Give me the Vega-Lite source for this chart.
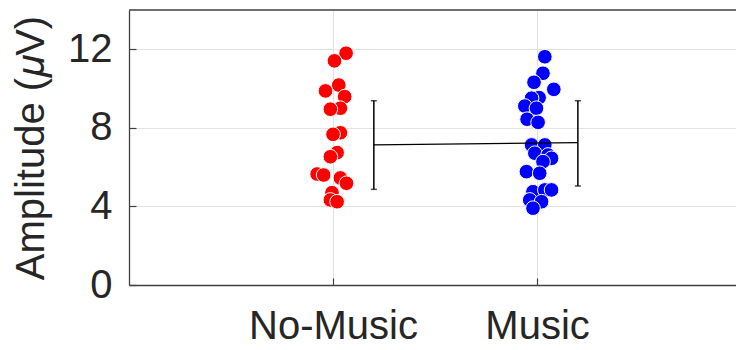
{
  "$schema": "https://vega.github.io/schema/vega-lite/v6.json",
  "width": 607,
  "height": 275,
  "autosize": {"type": "none"},
  "padding": {"left": 129, "top": 10, "right": 0, "bottom": 65},
  "background": "white",
  "config": {
    "view": {"stroke": null},
    "font": "Liberation Sans",
    "axis": {
      "labelFont": "Liberation Sans",
      "titleFont": "Liberation Sans",
      "labelColor": "#262626",
      "titleColor": "#262626",
      "domainColor": "#404040",
      "domainWidth": 1.3,
      "tickColor": "#404040",
      "tickWidth": 1.2,
      "gridColor": "#e2e2e2",
      "gridWidth": 1
    }
  },
  "datasets": {
    "pts": [
      {"group": "No-Music", "x": 1.064, "y": 11.80},
      {"group": "No-Music", "x": 1.007, "y": 11.41},
      {"group": "No-Music", "x": 1.028, "y": 10.18},
      {"group": "No-Music", "x": 0.963, "y": 9.88},
      {"group": "No-Music", "x": 1.057, "y": 9.59},
      {"group": "No-Music", "x": 1.036, "y": 9.00},
      {"group": "No-Music", "x": 0.987, "y": 8.95},
      {"group": "No-Music", "x": 1.036, "y": 7.75},
      {"group": "No-Music", "x": 1.000, "y": 7.67},
      {"group": "No-Music", "x": 1.020, "y": 6.74},
      {"group": "No-Music", "x": 0.987, "y": 6.53},
      {"group": "No-Music", "x": 0.922, "y": 5.65},
      {"group": "No-Music", "x": 0.954, "y": 5.60},
      {"group": "No-Music", "x": 1.036, "y": 5.45},
      {"group": "No-Music", "x": 1.066, "y": 5.18},
      {"group": "No-Music", "x": 0.995, "y": 4.70},
      {"group": "No-Music", "x": 0.987, "y": 4.33},
      {"group": "No-Music", "x": 1.020, "y": 4.24},
      {"group": "Music", "x": 2.038, "y": 11.62},
      {"group": "Music", "x": 2.029, "y": 10.78},
      {"group": "Music", "x": 1.985, "y": 10.32},
      {"group": "Music", "x": 2.082, "y": 9.96},
      {"group": "Music", "x": 2.010, "y": 9.54},
      {"group": "Music", "x": 1.973, "y": 9.51},
      {"group": "Music", "x": 1.940, "y": 9.11},
      {"group": "Music", "x": 1.997, "y": 9.00},
      {"group": "Music", "x": 1.951, "y": 8.44},
      {"group": "Music", "x": 2.005, "y": 8.28},
      {"group": "Music", "x": 1.973, "y": 7.13},
      {"group": "Music", "x": 2.038, "y": 7.13},
      {"group": "Music", "x": 1.989, "y": 6.71},
      {"group": "Music", "x": 2.054, "y": 6.62},
      {"group": "Music", "x": 2.071, "y": 6.45},
      {"group": "Music", "x": 2.029, "y": 6.28},
      {"group": "Music", "x": 1.948, "y": 5.77},
      {"group": "Music", "x": 2.013, "y": 5.69},
      {"group": "Music", "x": 1.980, "y": 4.75},
      {"group": "Music", "x": 2.038, "y": 4.84},
      {"group": "Music", "x": 2.071, "y": 4.84},
      {"group": "Music", "x": 1.964, "y": 4.33},
      {"group": "Music", "x": 2.022, "y": 4.24},
      {"group": "Music", "x": 1.980, "y": 3.91}
    ],
    "summary": [
      {"group": "No-Music", "x": 1.2, "mean": 7.13, "lo": 4.87, "hi": 9.38},
      {"group": "Music", "x": 2.2, "mean": 7.25, "lo": 5.04, "hi": 9.38}
    ]
  },
  "layer": [
    {
      "data": {"values": [{"top": 14}]},
      "mark": {"type": "rule", "color": "#404040", "strokeWidth": 1.3},
      "encoding": {
        "y": {"field": "top", "type": "quantitative", "scale": {"domain": [0, 14], "nice": false}}
      }
    },
    {
      "data": {"name": "pts"},
      "mark": {"type": "circle", "size": 215, "opacity": 1, "stroke": "white", "strokeWidth": 1},
      "encoding": {
        "x": {
          "field": "x", "type": "quantitative",
          "scale": {"domain": [0, 2.975], "nice": false, "zero": false},
          "axis": {
            "values": [1, 2],
            "labelExpr": "datum.value == 1 ? 'No-Music' : 'Music'",
            "title": null,
            "grid": true,
            "tickSize": -7,
            "labelFontSize": 40,
            "labelPadding": 28,
            "labelFlush": false
          }
        },
        "y": {
          "field": "y", "type": "quantitative",
          "scale": {"domain": [0, 14], "nice": false},
          "axis": {
            "values": [0, 4, 8, 12],
            "title": "Amplitude (𝜇V)",
            "titleFontSize": 40,
            "titleFontWeight": "normal",
            "titlePadding": 16,
            "grid": true,
            "tickSize": -7,
            "labelFontSize": 40,
            "labelPadding": 24
          }
        },
        "color": {
          "field": "group", "type": "nominal",
          "scale": {"domain": ["No-Music", "Music"], "range": ["#ff0000", "#0000ff"]},
          "legend": null
        }
      }
    },
    {
      "data": {"name": "summary"},
      "mark": {"type": "line", "color": "black", "strokeWidth": 1.3},
      "encoding": {
        "x": {"field": "x", "type": "quantitative"},
        "y": {"field": "mean", "type": "quantitative"}
      }
    },
    {
      "data": {"name": "summary"},
      "mark": {"type": "rule", "color": "black", "strokeWidth": 1.5},
      "encoding": {
        "x": {"field": "x", "type": "quantitative"},
        "y": {"field": "lo", "type": "quantitative"},
        "y2": {"field": "hi"}
      }
    },
    {
      "data": {"name": "summary"},
      "mark": {"type": "tick", "color": "black", "orient": "horizontal", "size": 6, "thickness": 1.5},
      "encoding": {
        "x": {"field": "x", "type": "quantitative"},
        "y": {"field": "lo", "type": "quantitative"}
      }
    },
    {
      "data": {"name": "summary"},
      "mark": {"type": "tick", "color": "black", "orient": "horizontal", "size": 6, "thickness": 1.5},
      "encoding": {
        "x": {"field": "x", "type": "quantitative"},
        "y": {"field": "hi", "type": "quantitative"}
      }
    }
  ]
}
